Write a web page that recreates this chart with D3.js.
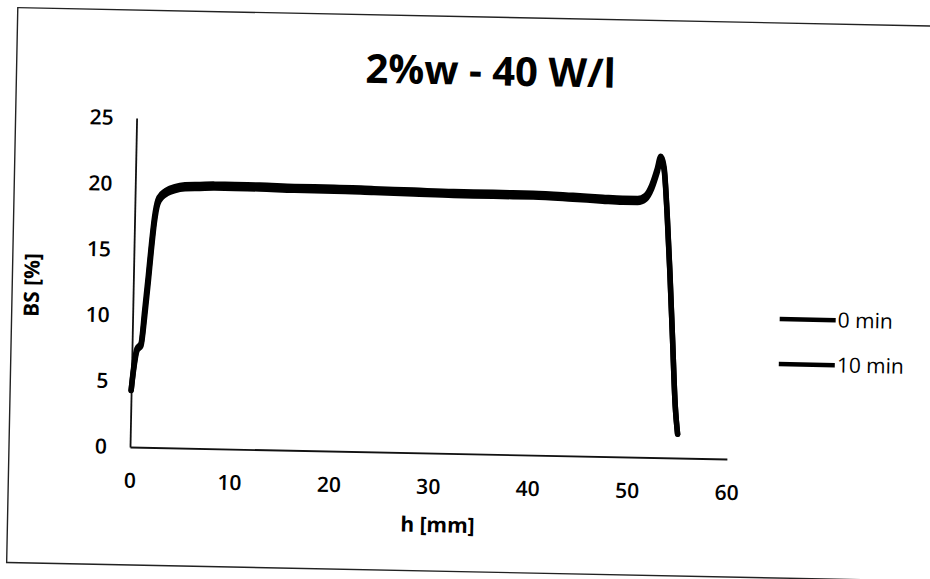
<!DOCTYPE html>
<html>
<head>
<meta charset="utf-8">
<script src="https://cdn.jsdelivr.net/npm/d3@7/dist/d3.min.js"></script>
<style>
    body { margin: 0; background: #fff; }
    svg { display: block; }
    text { font-family: "Open Sans", sans-serif; fill: #000; }
</style>
</head>
<body>
<div class="container"></div>
<script>
// data
const hValues = [0, 0.2, 0.5, 0.9, 1.2, 1.5, 1.75, 2.0, 2.3, 2.7, 3.2, 4, 5, 6.5, 8, 10, 12.5, 16, 20, 24, 28, 32, 36, 40, 44, 47, 49, 50.5, 51.3, 51.9, 52.4, 52.75, 53.1, 53.5, 53.9, 54.3, 54.7, 55.0];
const bs0min = [4.3, 6.0, 7.5, 7.9, 10.4, 13.1, 15.5, 17.5, 18.8, 19.3, 19.6, 19.85, 20.0, 20.05, 20.1, 20.1, 20.1, 20.05, 20.05, 20.0, 19.95, 19.9, 19.9, 19.9, 19.8, 19.7, 19.65, 19.65, 19.9, 20.7, 21.9, 22.9, 22.1, 18.6, 14.1, 9.0, 4.0, 1.8];
const bs10min = [4.3, 5.8, 7.3, 7.7, 9.8, 12.5, 15.0, 17.1, 18.5, 19.0, 19.3, 19.55, 19.7, 19.75, 19.8, 19.8, 19.8, 19.75, 19.75, 19.7, 19.65, 19.6, 19.6, 19.6, 19.5, 19.4, 19.35, 19.35, 19.6, 20.4, 21.6, 22.6, 21.9, 18.5, 14.0, 9.0, 4.0, 1.8];
const seriesNames = ["0 min", "10 min"];
const xTicks = [0, 10, 20, 30, 40, 50, 60];
const yTicks = [0, 5, 10, 15, 20, 25];

const W = 930, H = 579;
// plot origin (h = 0, BS = 0) on the page
const origin = { x: 130, y: 447 };
const tilt = 1.15; // the scan is slightly rotated

const svg = d3.select(".container")
    .append("svg")
    .attr("width", W)
    .attr("height", H);

svg.append("rect")
    .attr("width", W)
    .attr("height", H)
    .attr("fill", "#fff");

const page = svg.append("g")
    .attr("transform", `rotate(${tilt}, ${origin.x}, ${origin.y})`);

// frame of the chart area
page.append("rect")
    .attr("x", 9)
    .attr("y", 10)
    .attr("width", 960)
    .attr("height", 555)
    .attr("fill", "none")
    .attr("stroke", "#222")
    .attr("stroke-width", 1.4);

const x = d3.scaleLinear()
    .domain([0, 60])
    .range([origin.x, 727]);

const y = d3.scaleLinear()
    .domain([0, 25])
    .range([origin.y, 118]);

// title
page.append("text")
    .attr("x", 483)
    .attr("y", 78)
    .attr("text-anchor", "middle")
    .style("font-size", "40px")
    .style("font-weight", "bold")
    .text("2%w - 40 W/l");

// axes
const xAxis = d3.axisBottom(x)
    .tickValues(xTicks)
    .tickSize(0)
    .tickPadding(26);

const gx = page.append("g")
    .attr("transform", `translate(0, ${origin.y})`)
    .call(xAxis);

const yAxis = d3.axisLeft(y)
    .tickValues(yTicks)
    .tickSize(0)
    .tickPadding(23);

const gy = page.append("g")
    .attr("transform", `translate(${origin.x}, 0)`)
    .call(yAxis);

[gx, gy].forEach(g => {
    g.select(".domain")
        .attr("stroke", "#111")
        .attr("stroke-width", 1.8);
    g.selectAll("text")
        .style("font-size", "21px")
        .style("font-weight", "600")
        .attr("fill", "#000");
});

// axis titles
page.append("text")
    .attr("x", 439)
    .attr("y", 526)
    .attr("text-anchor", "middle")
    .style("font-size", "21px")
    .style("font-weight", "bold")
    .text("h [mm]");

page.append("text")
    .attr("transform", `translate(36, 287) rotate(-90)`)
    .attr("text-anchor", "middle")
    .style("font-size", "21px")
    .style("font-weight", "bold")
    .text("BS [%]");

// series
const series = [bs0min, bs10min].map((vals, i) => ({
    name: seriesNames[i],
    points: hValues.map((h, j) => [h, vals[j]])
}));

const line = d3.line()
    .x(d => x(d[0]))
    .y(d => y(d[1]))
    .curve(d3.curveMonotoneX);

page.selectAll(".series")
    .data(series)
    .enter()
    .append("path")
    .attr("class", "series")
    .attr("d", d => line(d.points))
    .attr("fill", "none")
    .attr("stroke", "#000")
    .attr("stroke-width", 5.5)
    .attr("stroke-linejoin", "round")
    .attr("stroke-linecap", "round");

// legend
const legend = page.selectAll(".legend")
    .data(series)
    .enter()
    .append("g")
    .attr("class", "legend")
    .attr("transform", (d, i) => `translate(777, ${306 + i * 45})`);

legend.append("line")
    .attr("x1", 0)
    .attr("x2", 56)
    .attr("stroke", "#000")
    .attr("stroke-width", 4.5);

legend.append("text")
    .attr("x", 58)
    .attr("dy", "0.35em")
    .style("font-size", "21px")
    .style("font-weight", "500")
    .text(d => d.name);
</script>
</body>
</html>
